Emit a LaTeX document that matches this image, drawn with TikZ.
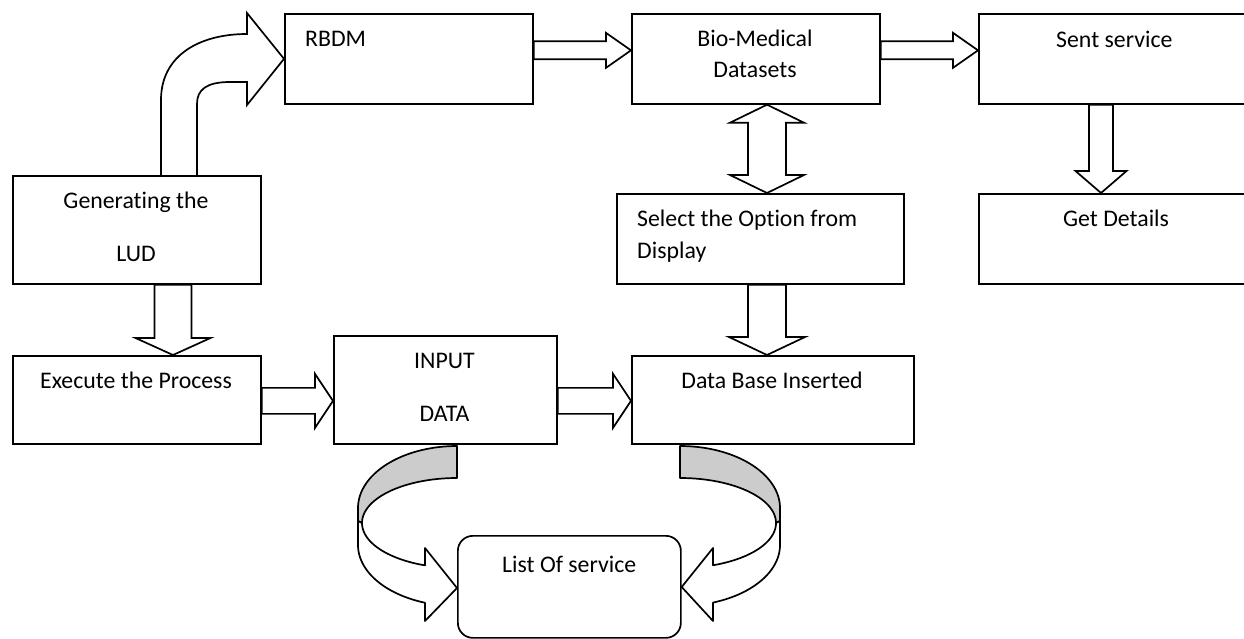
\documentclass[tikz,border=0pt]{standalone}
\usepackage{fontspec}
\setmainfont{Carlito}[Ligatures={NoCommon}]
\usetikzlibrary{calc}

\newcommand{\boxfont}{\fontsize{23.8}{31.5}\selectfont}

% block arrow pointing right: start, tip, shaft half width, head half width, head length
\newcommand{\rblock}[5]{%
  \draw[blk] let \p1=#1, \p2=#2 in
    (\x1,\y2+#3) -- (\x2-#5,\y2+#3) -- (\x2-#5,\y2+#4) -- (\x2,\y2)
    -- (\x2-#5,\y2-#4) -- (\x2-#5,\y2-#3) -- (\x1,\y2-#3) -- cycle;}
% block arrow pointing down
\newcommand{\dblock}[5]{%
  \draw[blk] let \p1=#1, \p2=#2 in
    (\x2-#3,\y1) -- (\x2-#3,\y2+#5) -- (\x2-#4,\y2+#5) -- (\x2,\y2)
    -- (\x2+#4,\y2+#5) -- (\x2+#3,\y2+#5) -- (\x2+#3,\y1) -- cycle;}
% vertical block arrow with a head at both ends
\newcommand{\udblock}[5]{%
  \draw[blk] let \p1=#1, \p2=#2 in
    (\x1,\y1) -- (\x1+#4,\y1-#5) -- (\x1+#3,\y1-#5) -- (\x1+#3,\y2+#5)
    -- (\x1+#4,\y2+#5) -- (\x2,\y2) -- (\x1-#4,\y2+#5) -- (\x1-#3,\y2+#5)
    -- (\x1-#3,\y1-#5) -- (\x1-#4,\y1-#5) -- cycle;}

\begin{document}
\begin{tikzpicture}[x=1pt,y=-1pt,
  box/.style={draw, line width=1.7pt, fill=white, anchor=north west,
    inner sep=0pt, minimum height=90pt},
  blk/.style={draw, line width=1.7pt, fill=white, line join=miter},
  ribbon/.style={draw, line width=1.7pt, line join=round},
  lbl/.style={inner sep=0pt, font=\boxfont}]
\useasboundingbox (0,0) rectangle (1244,639);
\clip (0,0) rectangle (1244,639);

% boxes
\node[box, minimum width=248pt, minimum height=108pt] (gen) at (12,175) {};
\node[box, minimum width=248pt, minimum height=88pt] (exe) at (12,355) {};
\node[box, minimum width=248pt] (rbdm) at (284,13) {};
\node[box, minimum width=248pt] (bio) at (631,13) {};
\node[box, minimum width=290pt] (sent) at (978,13) {};
\node[box, minimum width=287pt] (sel) at (616,193) {};
\node[box, minimum width=290pt] (get) at (978,193) {};
\node[box, minimum width=223pt, minimum height=108pt] (inp) at (333,335) {};
\node[box, minimum width=282pt, minimum height=88pt] (db) at (631,355) {};
\node[box, minimum width=223pt, minimum height=102pt, rounded corners=15pt] (lst) at (457,535) {};

% texts
\node[lbl, anchor=base west] at (305,47) {RBDM};
\node[lbl, anchor=base] at (755,47) {Bio-Medical};
\node[lbl, anchor=base] at (755,78) {Datasets};
\node[lbl, anchor=base west] at (1056,48) {Sent service};
\node[lbl, anchor=base] at (136,208) {Generating the};
\node[lbl, anchor=base] at (136,261) {LUD};
\node[lbl, anchor=base west] at (637,226.5) {Select the Option from};
\node[lbl, anchor=base west] at (637,258) {Display};
\node[lbl, anchor=base west] at (1063,226.5) {Get Details};
\node[lbl, anchor=base] at (136,388) {Execute the Process};
\node[lbl, anchor=base] at (444.5,368) {INPUT};
\node[lbl, anchor=base] at (444.5,421.5) {DATA};
\node[lbl, anchor=base] at (772,388) {Data Base Inserted};
\node[lbl, anchor=base west] at (502,572) {List Of service};

% straight block arrows
\rblock{($(rbdm.east)+(0,-8.5)$)}{($(bio.west)+(0,-8.5)$)}{9pt}{17.5pt}{25pt}
\rblock{($(bio.east)+(0,-8.5)$)}{($(sent.west)+(0,-8.5)$)}{9pt}{17.5pt}{25pt}
\dblock{($(sent.south west)+(123,0)$)}{($(get.north west)+(123,0)$)}{12pt}{25.5pt}{22pt}
\dblock{($(gen.south west)+(161,0)$)}{($(exe.north west)+(161,0)$)}{18.5pt}{37.5pt}{17pt}
\rblock{($(exe.east)+(0,1)$)}{($(inp.west)+(0,11)$)}{13pt}{27pt}{18pt}
\rblock{($(inp.east)+(0,11)$)}{($(db.west)+(0,1)$)}{13pt}{27pt}{18pt}
\dblock{($(sel.south west)+(151,0)$)}{($(db.north west)+(136,0)$)}{19pt}{38pt}{18pt}
\udblock{($(bio.south west)+(136,0)$)}{($(sel.north west)+(151,0)$)}{19pt}{37pt}{18pt}

% bent arrow from the LUD box up to RBDM
\draw[blk] (161,175) -- (161,100) .. controls (161,55) and (200,34) .. (247,34)
  -- (247,13) -- (rbdm.west) -- (247,105) -- (247,82) -- (230,82)
  .. controls (206,82) and (197,90) .. (197,104) -- (197,175);

% curved arrow from the input box down into the list
\path[ribbon, fill=gray!40]
  plot[domain=270:180, samples=40] ({457+99*cos(\x)},{508+62*sin(\x)})
  -- (358,521)
  -- plot[domain=180:270, samples=40] ({457+95*cos(\x)},{523+45*sin(\x)}) -- cycle;
\path[ribbon, fill=white]
  (358,521) -- (358,545)
  -- plot[domain=180:108.9, samples=40] ({457+99*cos(\x)},{545+61*sin(\x)})
  -- (425,621) -- (lst.west |- 0,588) -- (425,548) -- (425,565.4)
  -- plot[domain=109.7:180, samples=40] ({457+95*cos(\x)},{523+45*sin(\x)}) -- cycle;

% curved arrow from the database box down into the list
\path[ribbon, fill=gray!40]
  plot[domain=270:360, samples=40] ({680+100*cos(\x)},{508+62*sin(\x)})
  -- (780,521)
  -- plot[domain=360:270, samples=40] ({680+96*cos(\x)},{523+45*sin(\x)}) -- cycle;
\path[ribbon, fill=white]
  (780,521) -- (780,545)
  -- plot[domain=0:70.7, samples=40] ({680+100*cos(\x)},{545+61*sin(\x)})
  -- (713,621) -- (lst.east |- 0,587) -- (713,548) -- (713,565.3)
  -- plot[domain=69.9:0, samples=40] ({680+96*cos(\x)},{523+45*sin(\x)}) -- cycle;
\end{tikzpicture}
\end{document}
